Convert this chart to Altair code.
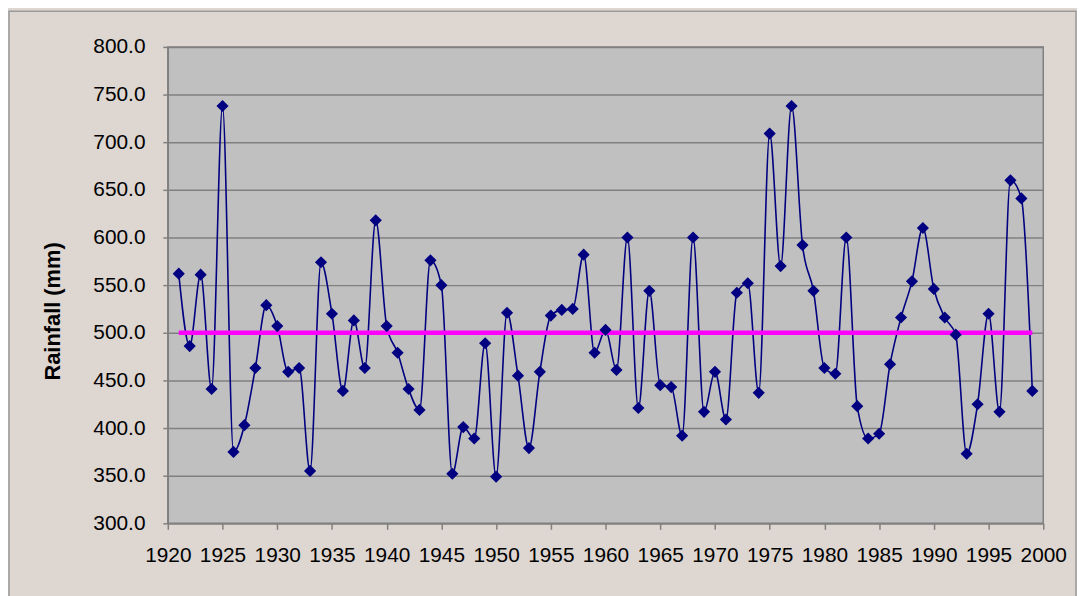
import altair as alt
import pandas as pd

years = list(range(1921, 2000))
rainfall = [562, 486, 561, 441, 738, 375, 403, 463, 529, 507,
            459, 463, 355, 574, 520, 439, 513, 463, 618, 507,
            479, 441, 419, 576, 550, 352, 401, 389, 489, 349,
            521, 455, 379, 459, 518, 524, 525, 582, 479, 503,
            461, 600, 421, 544, 445, 443, 392, 600, 417, 459,
            409, 542, 552, 437, 709, 570, 738, 592, 544, 463,
            457, 600, 423, 389, 394, 467, 516, 554, 610, 546,
            516, 498, 373, 425, 520, 417, 660, 641, 439]
mean_years = [1921, 1999]
mean_values = [500, 500]
x_ticks = list(range(1920, 2001, 5))
y_ticks = list(range(300, 801, 50))

df = pd.DataFrame({"Year": years, "Rainfall": rainfall})
mean_df = pd.DataFrame({"Year": mean_years, "Rainfall": mean_values})

FONT = "Liberation Sans"
W, H = 882, 480
PAD = {"left": 161, "top": 37, "right": 34, "bottom": 71}

x_enc = alt.X("Year:Q",
              scale=alt.Scale(domain=[1920, 2000], nice=False, zero=False),
              axis=alt.Axis(values=x_ticks, format="d", title=None, grid=False,
                            labelFont=FONT, labelFontSize=21, labelColor="#000000",
                            labelPadding=15, tickSize=6, tickColor="#808080",
                            domainColor="#808080", domainWidth=1.5, tickWidth=1.5,
                            labelFlush=False, labelOverlap=False))
y_enc = alt.Y("Rainfall:Q",
              scale=alt.Scale(domain=[300, 800], nice=False, zero=False),
              axis=alt.Axis(values=y_ticks, format=".1f", title="Rainfall (mm)",
                            titleFont=FONT, titleFontSize=22, titleFontWeight="bold",
                            titleColor="#000000", titleAngle=270,
                            titleAlign="center", titleBaseline="alphabetic",
                            titleX=-109, titleY=266,
                            labelFont=FONT, labelFontSize=21, labelColor="#000000",
                            labelPadding=18, tickSize=5, tickColor="#808080",
                            tickWidth=1.5, domainColor="#808080", domainWidth=1.5,
                            grid=True, gridColor="#808080", gridWidth=1.5,
                            labelFlush=False, labelOverlap=False))

frame = alt.Chart(pd.DataFrame({"a": [0]})).mark_rect(
    fillOpacity=0, stroke="#9a9a9a", strokeWidth=1.5
).encode(
    x=alt.value(-PAD["left"] + 1), x2=alt.value(W + PAD["right"] - 1),
    y=alt.value(-PAD["top"] + 1), y2=alt.value(H + PAD["bottom"] + 10)
)

line = alt.Chart(df).mark_line(
    color="#000080", strokeWidth=1.6, interpolate="monotone"
).encode(x=x_enc, y=y_enc)

mean_line = alt.Chart(mean_df).mark_line(
    color="#FF00FF", strokeWidth=4.5
).encode(x="Year:Q", y="Rainfall:Q")

points = alt.Chart(df).mark_point(
    shape="diamond", filled=True, color="#000080", size=150, opacity=1
).encode(x="Year:Q", y="Rainfall:Q")

chart = alt.layer(frame, line, mean_line, points).properties(
    width=W, height=H,
    autosize=alt.AutoSizeParams(type="none"),
    padding=PAD,
    background="#DDD6D1",
).configure_view(
    fill="#C0C0C0", stroke="#808080", strokeWidth=1.5
)

chart.save("out.html", embed_options={"renderer": "svg", "actions": False})
